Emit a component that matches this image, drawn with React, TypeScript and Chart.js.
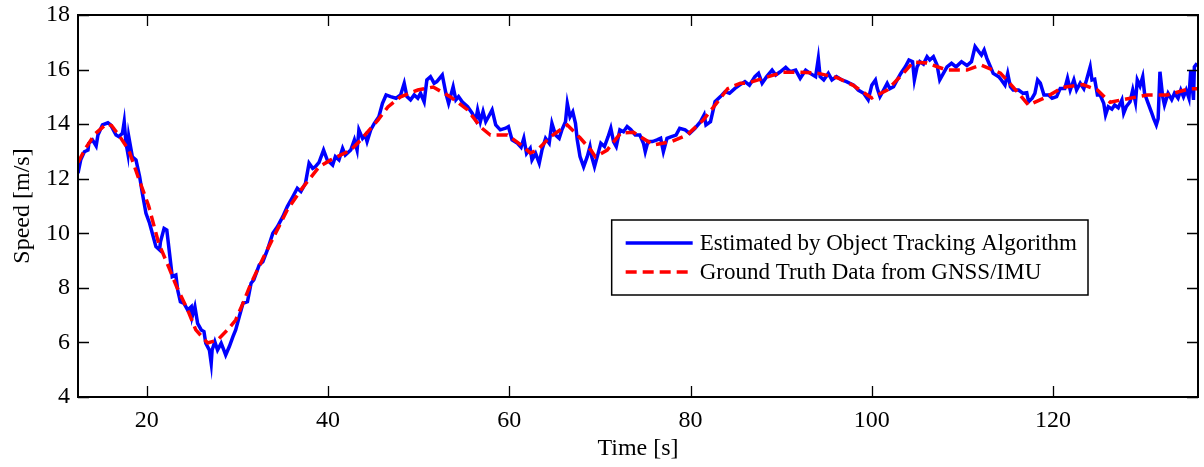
import React, { useEffect, useRef } from 'react';
import { Chart, registerables } from 'chart.js';

Chart.register(...registerables);

// ---- data ----
const estTime = [
  12.4, 12.7, 13.1, 13.5, 13.6, 14.0, 14.4, 14.6, 15.1, 15.7, 16.0, 16.6, 16.9, 17.3, 17.5, 17.7, 17.9, 18.0, 18.4, 18.8,
  19.2, 19.5, 19.9, 20.3, 20.6, 21.0, 21.4, 21.5, 21.9, 22.2, 22.5, 22.8, 23.2, 23.4, 23.7, 24.1, 24.5, 24.9, 25.0, 25.3,
  25.6, 26.0, 26.3, 26.5, 26.9, 27.1, 27.2, 27.5, 27.8, 28.2, 28.5, 28.7, 29.1, 29.5, 29.8, 30.2, 30.6, 31.1, 31.5, 31.8,
  32.4, 32.8, 33.3, 33.9, 34.4, 35.0, 35.5, 36.1, 36.6, 37.0, 37.5, 37.9, 38.3, 38.6, 39.0, 39.5, 39.9, 40.5, 40.8, 41.2,
  41.6, 41.9, 42.5, 42.9, 43.2, 43.4, 43.8, 44.1, 44.3, 44.7, 45.1, 45.6, 46.0, 46.4, 46.9, 47.5, 48.0, 48.4, 48.7, 49.1,
  49.5, 49.9, 50.2, 50.6, 50.9, 51.3, 51.7, 52.0, 52.6, 53.0, 53.3, 53.8, 54.1, 54.4, 54.8, 55.4, 55.9, 56.3, 56.5, 56.8,
  57.1, 57.4, 57.7, 58.1, 58.5, 59.0, 59.6, 59.9, 60.3, 60.9, 61.3, 61.6, 61.9, 62.3, 62.5, 62.9, 63.3, 63.6, 64.0, 64.4,
  64.7, 65.1, 65.5, 65.8, 66.2, 66.4, 66.7, 67.0, 67.3, 67.5, 67.8, 68.2, 68.6, 68.9, 69.1, 69.4, 69.8, 70.1, 70.5, 70.9,
  71.2, 71.5, 71.8, 72.2, 72.6, 73.0, 73.4, 73.9, 74.4, 74.8, 75.0, 75.3, 75.8, 76.3, 76.7, 77.0, 77.4, 77.9, 78.4, 78.8,
  79.4, 79.9, 80.5, 81.1, 81.5, 81.7, 82.2, 82.5, 82.7, 83.3, 83.8, 84.3, 84.9, 85.4, 86.0, 86.5, 87.1, 87.5, 87.9, 88.4,
  89.0, 89.4, 89.9, 90.5, 91.0, 91.6, 92.1, 92.7, 93.2, 93.8, 94.1, 94.3, 94.7, 95.2, 95.6, 96.1, 96.7, 97.2, 98.0, 98.5,
  99.1, 99.6, 100.0, 100.4, 100.6, 100.9, 101.3, 101.7, 102.0, 102.4, 102.8, 103.2, 103.7, 104.1, 104.5, 104.7, 105.0, 105.3, 105.7, 106.1,
  106.4, 106.8, 107.2, 107.5, 107.9, 108.3, 108.8, 109.3, 109.9, 110.5, 111.0, 111.4, 111.8, 112.1, 112.4, 112.7, 113.1, 113.4, 114.0, 114.3,
  114.7, 115.0, 115.3, 115.6, 116.2, 116.7, 117.1, 117.3, 117.7, 118.0, 118.3, 118.6, 119.0, 119.5, 119.9, 120.4, 120.8, 121.3, 121.6, 121.9,
  122.3, 122.6, 123.0, 123.4, 123.7, 124.1, 124.3, 124.6, 124.9, 125.2, 125.6, 125.8, 126.1, 126.5, 126.8, 127.2, 127.6, 127.8, 128.1, 128.5,
  128.8, 129.1, 129.3, 129.6, 129.9, 130.1, 130.5, 130.9, 131.1, 131.4, 131.6, 131.8, 132.1, 132.3, 132.7, 133.1, 133.4, 133.8, 134.1, 134.4,
  134.7, 135.0, 135.2, 135.5, 135.6, 135.9,
];
const estSpeed = [
  12.2, 12.69, 12.99, 13.05, 13.3, 13.42, 13.2, 13.6, 13.97, 14.05, 13.97, 13.6, 13.54, 13.66, 14.09, 13.3, 12.93, 13.54, 12.8, 12.69,
  12.08, 11.47, 10.73, 10.37, 10.0, 9.51, 9.39, 9.69, 10.18, 10.12, 9.27, 8.41, 8.47, 7.92, 7.49, 7.43, 7.19, 7.31, 6.95, 7.31,
  6.7, 6.46, 6.4, 5.97, 5.72, 5.24, 5.72, 6.03, 5.72, 5.97, 5.72, 5.54, 5.85, 6.21, 6.46, 6.95, 7.43, 7.49, 8.17, 8.29,
  8.84, 8.96, 9.39, 10.0, 10.24, 10.61, 10.98, 11.34, 11.65, 11.53, 11.83, 12.57, 12.38, 12.44, 12.6, 13.05, 12.69, 12.5, 12.81, 12.69,
  13.11, 12.87, 13.05, 13.42, 13.05, 13.79, 13.48, 13.6, 13.36, 13.79, 14.03, 14.27, 14.76, 15.07, 15.01, 14.95, 15.07, 15.5, 15.01, 14.89,
  15.07, 14.95, 15.13, 14.82, 15.62, 15.74, 15.5, 15.56, 15.8, 15.13, 14.76, 15.37, 14.89, 15.01, 14.82, 14.64, 14.4, 14.15, 14.52, 14.09,
  14.46, 14.09, 14.27, 14.52, 13.97, 13.79, 13.85, 13.91, 13.42, 13.3, 13.15, 13.48, 12.93, 13.11, 12.69, 12.93, 12.57, 13.05, 13.48, 13.3,
  14.03, 13.6, 13.48, 13.79, 14.09, 14.76, 14.27, 14.45, 14.03, 13.42, 12.81, 12.44, 12.81, 13.18, 12.8, 12.44, 12.93, 13.3, 13.18, 13.54,
  13.85, 13.36, 13.18, 13.79, 13.72, 13.91, 13.8, 13.6, 13.6, 13.3, 12.99, 13.36, 13.36, 13.42, 13.48, 12.99, 13.48, 13.54, 13.6, 13.85,
  13.79, 13.66, 13.85, 14.09, 14.34, 13.97, 14.09, 14.52, 14.82, 15.01, 15.19, 15.13, 15.31, 15.43, 15.56, 15.43, 15.74, 15.86, 15.5, 15.74,
  15.98, 15.8, 15.92, 16.08, 15.92, 15.98, 15.68, 15.98, 15.86, 15.74, 16.41, 15.74, 15.62, 15.86, 15.62, 15.74, 15.62, 15.56, 15.43, 15.25,
  15.13, 14.89, 15.43, 15.62, 15.31, 15.01, 15.25, 15.5, 15.3, 15.37, 15.62, 15.86, 16.1, 16.35, 16.29, 15.62, 16.1, 16.29, 16.2, 16.47,
  16.35, 16.47, 16.17, 15.62, 15.86, 16.1, 16.23, 16.1, 16.29, 16.15, 16.29, 16.84, 16.66, 16.53, 16.72, 16.41, 16.1, 15.86, 15.74, 15.62,
  15.43, 15.86, 15.37, 15.25, 15.25, 15.13, 15.15, 14.82, 14.95, 15.13, 15.62, 15.5, 15.07, 15.07, 14.95, 15.01, 15.31, 15.31, 15.68, 15.25,
  15.62, 15.25, 15.5, 15.3, 15.62, 16.1, 15.62, 15.65, 15.07, 15.07, 14.76, 14.34, 14.64, 14.55, 14.7, 14.6, 14.89, 14.4, 14.65, 14.82,
  15.25, 14.8, 15.62, 15.4, 15.74, 15.13, 14.76, 14.4, 14.21, 13.97, 14.2, 15.92, 15.01, 14.7, 15.13, 14.9, 15.13, 14.95, 15.25, 15.0,
  15.25, 14.95, 15.98, 14.89, 16.1, 16.23,
];
const gtTime = [
  12.4, 13.3, 14.3, 15.5, 16.1, 16.9, 18.0, 19.0, 20.2, 21.3, 22.4, 23.3, 24.5, 25.4, 26.7, 27.8, 28.9, 29.8, 30.6, 31.5,
  32.9, 34.2, 35.5, 37.0, 39.0, 40.3, 42.5, 43.6, 45.5, 46.6, 48.0, 49.9, 51.6, 53.5, 55.4, 56.8, 57.9, 59.8, 61.6, 62.3,
  63.1, 64.5, 66.4, 67.8, 69.0, 69.5, 70.8, 72.3, 73.7, 75.9, 77.8, 79.6, 81.4, 82.9, 84.1, 85.5, 86.3, 88.5, 90.2, 92.1,
  94.0, 96.2, 97.9, 99.5, 100.0, 101.7, 103.5, 104.6, 106.1, 108.3, 110.5, 112.0, 114.2, 115.6, 117.3, 119.3, 121.1, 123.3, 124.9, 126.3,
  127.7, 130.4, 132.6, 135.1, 136.0,
];
const gtSpeed = [
  12.6, 13.15, 13.65, 14.0, 13.95, 13.6, 13.05, 12.1, 11.0, 9.64, 8.77, 8.03, 7.19, 6.46, 5.98, 6.09, 6.46, 6.82, 7.43, 8.17,
  9.14, 10.0, 10.86, 11.59, 12.43, 12.69, 13.05, 13.42, 14.15, 14.63, 15.0, 15.25, 15.36, 15.0, 14.52, 13.9, 13.6, 13.6, 13.16, 12.94,
  13.05, 13.53, 13.97, 13.5, 13.05, 12.8, 13.05, 13.68, 13.7, 13.24, 13.35, 13.6, 14.15, 14.78, 15.3, 15.5, 15.5, 15.73, 15.9, 15.9,
  15.87, 15.7, 15.43, 15.07, 14.96, 15.25, 15.87, 16.28, 16.24, 15.98, 15.98, 16.17, 15.87, 15.36, 14.7, 15.0, 15.35, 15.45, 15.25, 14.8,
  14.9, 15.07, 15.07, 15.3, 15.3,
];
const xTicks = [20, 40, 60, 80, 100, 120];
const yTicks = [4, 6, 8, 10, 12, 14, 16, 18];
const xRange = [12.4, 136];
const yRange = [4, 18];
const seriesLabels = ['Estimated by Object Tracking Algorithm', 'Ground Truth Data from GNSS/IMU'];
const xTitle = 'Time [s]';
const yTitle = 'Speed [m/s]';

const FONT = '"Liberation Serif", "Times New Roman", serif';
const BLUE = '#0000FF';
const RED = '#FF0000';

const framePlugin = {
  id: 'matlabFrame',
  afterDraw(chart: any) {
    const { ctx, chartArea: a, scales } = chart;
    ctx.save();
    // inward ticks on all four sides
    const L = 11;
    ctx.strokeStyle = '#000';
    ctx.lineWidth = 1.3;
    ctx.beginPath();
    xTicks.forEach((v) => {
      const x = Math.round(scales.x.getPixelForValue(v)) + 0.5;
      ctx.moveTo(x, a.bottom);
      ctx.lineTo(x, a.bottom - L);
      ctx.moveTo(x, a.top);
      ctx.lineTo(x, a.top + L);
    });
    yTicks.forEach((v) => {
      const y = Math.round(scales.y.getPixelForValue(v)) + 0.5;
      ctx.moveTo(a.left, y);
      ctx.lineTo(a.left + L, y);
      ctx.moveTo(a.right, y);
      ctx.lineTo(a.right - L, y);
    });
    ctx.stroke();
    // box
    ctx.lineWidth = 2;
    ctx.strokeRect(a.left, a.top, a.right - a.left, a.bottom - a.top);

    // legend
    ctx.font = `23px ${FONT}`;
    const tw = Math.max(...seriesLabels.map((s) => ctx.measureText(s).width));
    const boxRight = a.right - 110;
    const boxTop = a.top + 205;
    const boxW = tw + 88 + 11;
    const boxH = 75;
    const boxLeft = boxRight - boxW;
    ctx.fillStyle = '#fff';
    ctx.fillRect(boxLeft, boxTop, boxW, boxH);
    ctx.lineWidth = 1.5;
    ctx.strokeStyle = '#000';
    ctx.strokeRect(boxLeft, boxTop, boxW, boxH);
    const rows = [boxTop + 23, boxTop + 52];
    chart.data.datasets.forEach((ds: any) => {
      const y = rows[ds.legendRow];
      ctx.beginPath();
      ctx.strokeStyle = ds.borderColor;
      ctx.lineWidth = 3.5;
      ctx.setLineDash(ds.borderDash || []);
      ctx.moveTo(boxLeft + 14, y);
      ctx.lineTo(boxLeft + 81, y);
      ctx.stroke();
      ctx.setLineDash([]);
      ctx.fillStyle = '#000';
      ctx.textBaseline = 'middle';
      ctx.textAlign = 'left';
      ctx.fillText(ds.label, boxLeft + 88, y + 1);
    });
    ctx.restore();
  },
};

export default function App() {
  const ref = useRef<HTMLCanvasElement>(null);
  useEffect(() => {
    document.body.style.margin = '0';
    const canvas = ref.current;
    if (!canvas) return;
    const estData = estTime.map((t, i) => ({ x: t, y: estSpeed[i] }));
    const gtData = gtTime.map((t, i) => ({ x: t, y: gtSpeed[i] }));
    const chart = new Chart(canvas, {
      type: 'line',
      data: {
        datasets: [
          {
            label: seriesLabels[1],
            data: gtData,
            borderColor: RED,
            borderWidth: 3.5,
            borderDash: [11, 6],
            pointRadius: 0,
            tension: 0,
            fill: false,
            order: 0,
            legendRow: 1,
          } as any,
          {
            label: seriesLabels[0],
            data: estData,
            borderColor: BLUE,
            borderWidth: 3.5,
            pointRadius: 0,
            tension: 0,
            fill: false,
            order: 1,
            legendRow: 0,
          } as any,
        ],
      },
      options: {
        animation: false,
        responsive: false,
        devicePixelRatio: 1,
        layout: { padding: { left: 0, right: 6, top: 15, bottom: 0 } },
        plugins: { legend: { display: false }, tooltip: { enabled: false } },
        scales: {
          x: {
            type: 'linear',
            min: xRange[0],
            max: xRange[1],
            grid: { display: false, drawTicks: false },
            border: { display: false },
            afterBuildTicks: (s: any) => {
              s.ticks = xTicks.map((v) => ({ value: v }));
            },
            afterFit: (s: any) => {
              s.height = 70;
              s.paddingLeft = 0;
              s.paddingRight = 0;
            },
            ticks: {
              color: '#000',
              padding: 9,
              font: { family: FONT, size: 24 },
              maxRotation: 0,
              autoSkip: false,
            },
            title: {
              display: true,
              text: xTitle,
              color: '#000',
              font: { family: FONT, size: 24 },
              padding: { top: 4, bottom: 4 },
            },
          },
          y: {
            type: 'linear',
            min: yRange[0],
            max: yRange[1],
            grid: { display: false, drawTicks: false },
            border: { display: false },
            afterBuildTicks: (s: any) => {
              s.ticks = yTicks.map((v) => ({ value: v }));
            },
            afterFit: (s: any) => {
              s.width = 78;
              s.paddingTop = 0;
              s.paddingBottom = 0;
            },
            ticks: {
              color: '#000',
              padding: 8,
              font: { family: FONT, size: 24 },
              autoSkip: false,
            },
            title: {
              display: true,
              text: yTitle,
              color: '#000',
              font: { family: FONT, size: 24 },
              padding: { top: 8, bottom: 4 },
            },
          },
        },
      },
      plugins: [framePlugin],
    });
    return () => chart.destroy();
  }, []);
  return (
    <div style={{ width: 1204, height: 467, background: '#fff' }}>
      <canvas ref={ref} width={1204} height={467} style={{ display: 'block' }} />
    </div>
  );
}
